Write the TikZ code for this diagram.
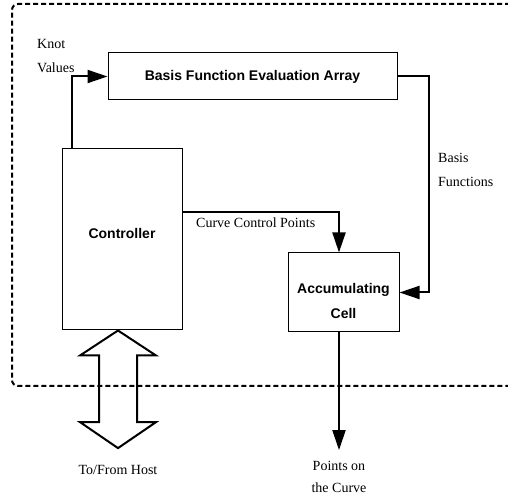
\documentclass[tikz,border=0pt]{standalone}
\usepackage{fontspec}
\setmainfont{Liberation Serif}
\setsansfont{Liberation Sans}
\usetikzlibrary{arrows.meta,positioning,calc}

\begin{document}
\begin{tikzpicture}[x=1pt, y=1pt]
    \tikzstyle{box}=[draw, line width=1pt, inner sep=0pt, align=center, font=\fontsize{14}{25}\selectfont\sffamily\bfseries]
    \tikzstyle{lbl}=[inner sep=2pt, align=left, font=\fontsize{14}{24}\selectfont]
    \tikzstyle{arr}=[line width=2pt, -{Triangle[length=20pt, width=13pt]}]
    \useasboundingbox (0,0) rectangle (508,500);
    % Chip boundary
    \draw[line width=2pt, dash pattern=on 5pt off 3pt, rounded corners=6pt] (510,496) -- (12,496) -- (12,114) -- (510,114);
    % Blocks
    \node[box, minimum width=289pt, minimum height=47pt] (bfea) at (252.5,423.5) {Basis Function Evaluation Array};
    \node[box, minimum width=120pt, minimum height=181pt, text depth=13pt] (ctrl) at (122,260.5) {Controller};
    \node[box, minimum width=111pt, minimum height=79pt, text height=52pt] (acc) at (343.5,207.5) {Accumulating\\Cell};
    % Labels
    \node[lbl, anchor=west] (knot) at (35,444) {Knot\\Values};
    \node[lbl, anchor=west] (bfn) at (436,330) {Basis\\Functions};
    \node[lbl, anchor=west] (ccp) at (194,277) {Curve Control Points};
    \node[lbl, inner ysep=17pt] (host) at (118,30) {To/From Host};
    \node[lbl, align=center, inner ysep=11pt, font=\fontsize{14}{22}\selectfont] (pts) at (339,23) {Points on\\the Curve};
    % Data paths
    \draw[arr] ([xshift=10pt]ctrl.north west) |- (bfea.west);
    \draw[arr] (bfea.east) -- ++(31,0) |- (acc.east);
    \draw[arr] ([yshift=27.5pt]ctrl.east) -| ([xshift=-4.5pt]acc.north);
    \draw[arr] ([xshift=-4.5pt]acc.south) -- (pts.north);
    % Host interface
    \draw[line width=2pt] ([xshift=-4pt]ctrl.south) -- ++(38,-25) -- ++(-19,0) |- ($(host.north)+(19,26)$) -- ++(19,0) -- (host.north)
        -- ++(-38,26) -- ++(19,0) |- ($([xshift=-4pt]ctrl.south)+(-19,-25)$) -- ++(-19,0) -- cycle;
\end{tikzpicture}
\end{document}
